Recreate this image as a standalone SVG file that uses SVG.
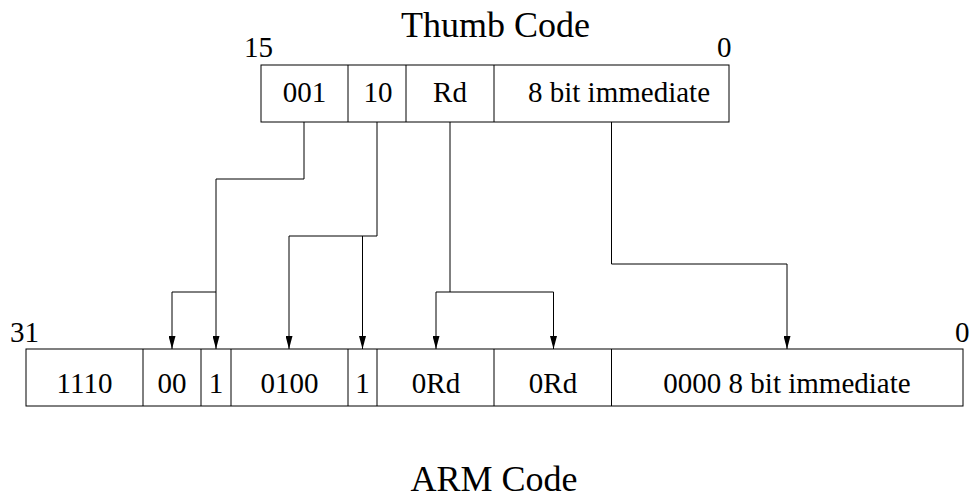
<svg xmlns="http://www.w3.org/2000/svg" width="969" height="497" viewBox="0 0 969 497">
<style>
.t{font-family:"Liberation Serif","Times New Roman",serif;font-size:36px;text-anchor:middle;fill:#000}
.f{font-family:"Liberation Serif","Times New Roman",serif;font-size:29px;text-anchor:middle;fill:#000}
.n{font-family:"Liberation Serif","Times New Roman",serif;font-size:29px;fill:#000}
.box{fill:#fff;stroke:#000;stroke-width:1}
.div{stroke:#000;stroke-width:1}
.c{fill:none;stroke:#000;stroke-width:1}
</style>
<defs>
<marker id="ah" markerWidth="13" markerHeight="7" refX="13" refY="3.5" orient="auto" markerUnits="userSpaceOnUse" viewBox="0 0 13 7">
<path d="M0,0 L13,3.5 L0,7 Z" fill="#000"/>
</marker>
</defs>
<rect width="969" height="497" fill="#fff"/>
<g id="titles" font-family="Liberation Serif, Times New Roman, serif">
<text class="t" x="495.5" y="37">Thumb Code</text>
<text class="t" x="494" y="491">ARM Code</text>
</g>
<g id="bitnums" font-family="Liberation Serif, Times New Roman, serif">
<text class="n" x="244" y="57">15</text>
<text class="n" x="717" y="57">0</text>
<text class="n" x="10" y="342">31</text>
<text class="n" x="955" y="342">0</text>
</g>
<g id="thumb" font-family="Liberation Serif, Times New Roman, serif">
<rect class="box" x="261" y="65" width="468" height="57"/>
<line class="div" x1="348" y1="65" x2="348" y2="122"/>
<line class="div" x1="406" y1="65" x2="406" y2="122"/>
<line class="div" x1="494" y1="65" x2="494" y2="122"/>
<text class="f" x="304.5" y="102">001</text>
<text class="f" x="378" y="102">10</text>
<text class="f" x="450" y="102">Rd</text>
<text class="f" x="619" y="102">8 bit immediate</text>
</g>
<g id="arm" font-family="Liberation Serif, Times New Roman, serif">
<rect class="box" x="26" y="349" width="937" height="57"/>
<line class="div" x1="143" y1="349" x2="143" y2="406"/>
<line class="div" x1="201" y1="349" x2="201" y2="406"/>
<line class="div" x1="231" y1="349" x2="231" y2="406"/>
<line class="div" x1="348" y1="349" x2="348" y2="406"/>
<line class="div" x1="377" y1="349" x2="377" y2="406"/>
<line class="div" x1="494" y1="349" x2="494" y2="406"/>
<line class="div" x1="611.5" y1="349" x2="611.5" y2="406"/>
<text class="f" x="84.5" y="393">1110</text>
<text class="f" x="172" y="393">00</text>
<text class="f" x="216" y="393">1</text>
<text class="f" x="289.5" y="393">0100</text>
<text class="f" x="362.5" y="393">1</text>
<text class="f" x="436" y="393">0Rd</text>
<text class="f" x="553" y="393">0Rd</text>
<text class="f" x="787" y="393">0000 8 bit immediate</text>
</g>
<g id="connectors">
<polyline class="c" points="304,122 304,179 216,179 216,349" marker-end="url(#ah)"/>
<polyline class="c" points="216,292 172,292 172,349" marker-end="url(#ah)"/>
<polyline class="c" points="377,122 377,236 289,236 289,349" marker-end="url(#ah)"/>
<polyline class="c" points="362.5,236 362.5,349" marker-end="url(#ah)"/>
<polyline class="c" points="450,122 450,292 436,292 436,349" marker-end="url(#ah)"/>
<polyline class="c" points="450,292 553.5,292 553.5,349" marker-end="url(#ah)"/>
<polyline class="c" points="611.5,122 611.5,264 787,264 787,349" marker-end="url(#ah)"/>
</g>
</svg>
